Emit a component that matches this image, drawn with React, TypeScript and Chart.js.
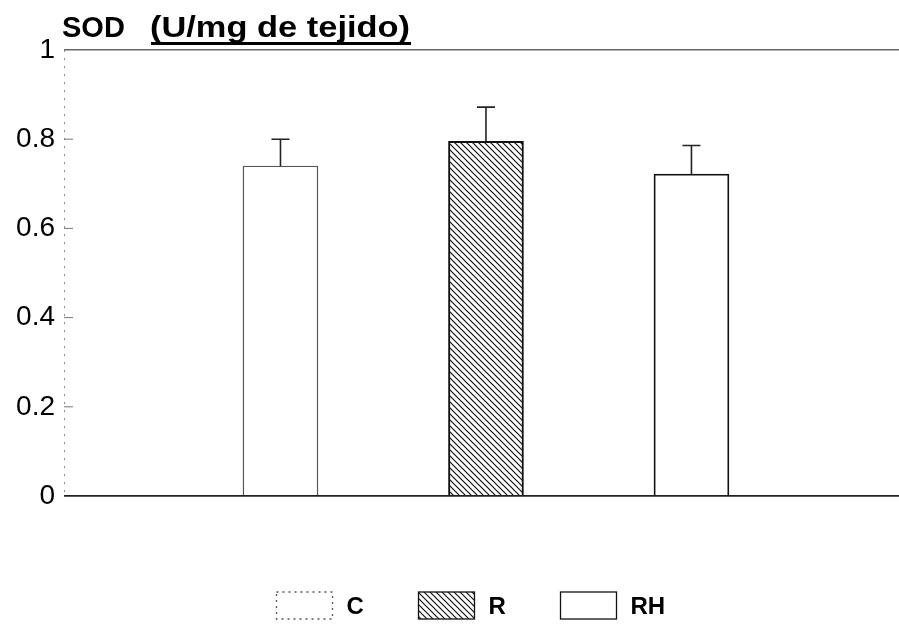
import React, { useEffect, useRef } from "react";
import { Chart, registerables } from "chart.js";

Chart.register(...registerables);

const categories = ["C", "R", "RH"];
const values = [0.74, 0.795, 0.722];
const errors = [0.06, 0.077, 0.064];
const xPositions = [1, 2, 3];
const yTicks = [0, 0.2, 0.4, 0.6, 0.8, 1];
const titleMain = "SOD";
const titleUnit = "(U/mg de tejido)";

function makeHatch(): CanvasPattern | string {
  const s = 6;
  const c = document.createElement("canvas");
  c.width = s;
  c.height = s;
  const g = c.getContext("2d");
  if (!g) return "#888";
  g.fillStyle = "#ffffff";
  g.fillRect(0, 0, s, s);
  g.strokeStyle = "#111";
  g.lineWidth = 1.2;
  g.beginPath();
  g.moveTo(-1, -1);
  g.lineTo(s + 1, s + 1);
  g.moveTo(-1, s - 1);
  g.lineTo(1, s + 1);
  g.moveTo(s - 1, -1);
  g.lineTo(s + 1, 1);
  g.stroke();
  const p = g.createPattern(c, "repeat");
  return p || "#888";
}

const errorBarPlugin = {
  id: "errorBars",
  afterDatasetsDraw(chart: any) {
    const ctx = chart.ctx;
    const yScale = chart.scales.y;
    ctx.save();
    ctx.strokeStyle = "#222";
    ctx.lineWidth = 1.6;
    chart.data.datasets.forEach((ds: any, i: number) => {
      const meta = chart.getDatasetMeta(i);
      meta.data.forEach((bar: any, j: number) => {
        const v = ds.data[j].y;
        const e = ds.errors[j];
        const yTop = yScale.getPixelForValue(v + e);
        const yBar = yScale.getPixelForValue(v);
        ctx.beginPath();
        ctx.moveTo(bar.x, yBar);
        ctx.lineTo(bar.x, yTop);
        ctx.moveTo(bar.x - 9, yTop);
        ctx.lineTo(bar.x + 9, yTop);
        ctx.stroke();
      });
    });
    ctx.restore();
  },
};

const decorPlugin = {
  id: "decor",
  afterDraw(chart: any) {
    const ctx = chart.ctx;
    const area = chart.chartArea;
    const yScale = chart.scales.y;
    ctx.save();
    // faint dotted left axis
    ctx.strokeStyle = "#888";
    ctx.lineWidth = 1;
    ctx.setLineDash([2, 6]);
    ctx.beginPath();
    ctx.moveTo(area.left + 0.5, area.top);
    ctx.lineTo(area.left + 0.5, area.bottom);
    ctx.stroke();
    ctx.setLineDash([]);
    // inward tick marks
    ctx.strokeStyle = "#777";
    yScale.ticks.forEach((t: any) => {
      if (t.value === 0 || t.value === 1) return;
      const y = yScale.getPixelForValue(t.value);
      ctx.beginPath();
      ctx.moveTo(area.left, y);
      ctx.lineTo(area.left + 9, y);
      ctx.stroke();
    });

    // title
    ctx.fillStyle = "#000";
    ctx.textBaseline = "alphabetic";
    ctx.textAlign = "left";
    ctx.font = "bold 29px 'Liberation Sans', Arial, sans-serif";
    ctx.fillText(titleMain, area.left - 2, 37);
    const unitX = area.left + 86;
    const target = 260;
    const w = ctx.measureText(titleUnit).width;
    ctx.save();
    ctx.translate(unitX, 37);
    ctx.scale(target / w, 1);
    ctx.fillText(titleUnit, 0, 0);
    ctx.restore();
    ctx.fillRect(unitX + 1, 42, target, 3);

    // legend
    const boxW = 56;
    const boxH = 27;
    const step = 142;
    const startX = (area.left + area.right) / 2 - 205;
    const boxY = 592;
    ctx.font = "bold 24px 'Liberation Sans', Arial, sans-serif";
    ctx.textBaseline = "middle";
    chart.data.datasets.forEach((ds: any, i: number) => {
      const bx = startX + i * step;
      ctx.fillStyle = ds.backgroundColor;
      ctx.fillRect(bx, boxY, boxW, boxH);
      ctx.strokeStyle = ds.borderColor;
      ctx.lineWidth = 1.3;
      if (ds.legendDash) ctx.setLineDash(ds.legendDash);
      else ctx.setLineDash([]);
      ctx.strokeRect(bx, boxY, boxW, boxH);
      ctx.setLineDash([]);
      ctx.fillStyle = "#000";
      ctx.fillText(ds.label, bx + 70, boxY + boxH / 2 + 2);
    });
    ctx.restore();
  },
};

export default function App() {
  const ref = useRef<HTMLCanvasElement | null>(null);

  useEffect(() => {
    if (!ref.current) return;
    const hatch = makeHatch();
    const fills = ["#ffffff", hatch, "#ffffff"];
    const borders = ["#555", "#111", "#111"];
    const borderWidths = [1.4, 2, 1.8];
    const dashes = [[2, 4], null, null];
    const chart = new Chart(ref.current, {
      type: "bar",
      data: {
        datasets: categories.map((c, i) => ({
          label: c,
          data: [{ x: xPositions[i], y: values[i] }],
          errors: [errors[i]],
          backgroundColor: fills[i],
          borderColor: borders[i],
          borderWidth: borderWidths[i],
          legendDash: dashes[i],
          grouped: false,
          barThickness: 75,
        })) as any,
      },
      options: {
        responsive: false,
        animation: false,
        layout: { padding: { top: 50, bottom: 131, left: 0, right: 0 } },
        plugins: {
          legend: { display: false },
          title: { display: false },
          tooltip: { enabled: false },
        },
        scales: {
          x: {
            type: "linear",
            display: false,
            offset: false,
            min: -0.0535,
            max: 4.01,
            grid: { offset: false },
          },
          y: {
            min: 0,
            max: 1,
            afterBuildTicks: (scale: any) => {
              scale.ticks = yTicks.map((v) => ({ value: v }));
            },
            afterFit: (scale: any) => {
              scale.width = 64;
            },
            ticks: {
              color: "#000",
              padding: 9,
              font: { family: "'Liberation Sans', Arial, sans-serif", size: 28 },
              callback: (v: any) => String(v),
            },
            grid: {
              drawTicks: false,
              color: (ctx: any) =>
                ctx.tick && ctx.tick.value === 0
                  ? "#222"
                  : ctx.tick && ctx.tick.value === 1
                  ? "#666"
                  : "rgba(0,0,0,0)",
              lineWidth: (ctx: any) =>
                ctx.tick && ctx.tick.value === 0 ? 1.8 : 1.5,
            },
            border: { display: false },
          },
        },
      } as any,
      plugins: [errorBarPlugin, decorPlugin],
    });
    return () => chart.destroy();
  }, []);

  return (
    <div style={{ position: "fixed", left: 0, top: 0, width: 899, height: 627, background: "#fff" }}>
      <canvas ref={ref} width={899} height={627} />
    </div>
  );
}
